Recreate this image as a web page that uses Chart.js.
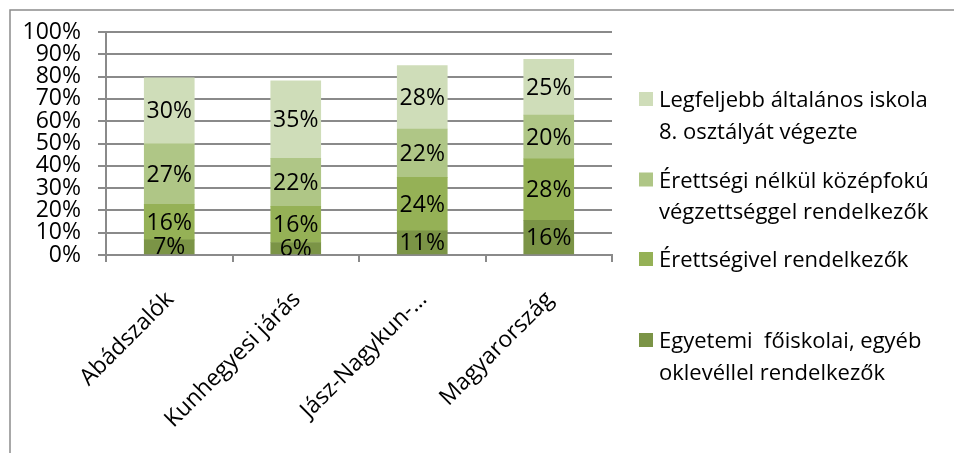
<!DOCTYPE html>
<html>
<head>
<meta charset="utf-8">
<script src="https://cdn.jsdelivr.net/npm/chart.js@4/dist/chart.umd.min.js"></script>
<style>
  html, body { margin: 0; padding: 0; background: #ffffff; }
  #wrap { width: 954px; height: 453px; position: relative; }
</style>
</head>
<body>
<div id="wrap"><canvas id="c" width="954" height="453"></canvas></div>
<script>
// ---- data ----
const categories = ['Abádszalók', 'Kunhegyesi járás', 'Jász-Nagykun-…', 'Magyarország'];
const egyetemi = [6.8, 5.6, 10.8, 15.6];
const erettsegivel = [15.9, 16.2, 24.0, 27.5];
const erettsegiNelkul = [27.1, 21.5, 21.7, 19.6];
const legfeljebbAltalanos = [29.6, 34.8, 28.4, 25.1];
const yTickValues = [0, 10, 20, 30, 40, 50, 60, 70, 80, 90, 100];
const seriesLabels = [
  ['Egyetemi  főiskolai, egyéb', 'oklevéllel rendelkezők'],
  ['Érettségivel rendelkezők'],
  ['Érettségi nélkül középfokú', 'végzettséggel rendelkezők'],
  ['Legfeljebb általános iskola', '8. osztályát végezte']
];
const seriesColors = ['#7b9446', '#95b156', '#afc686', '#cfddb9'];

const FONT = '"Open Sans", "Noto Sans", sans-serif';
const GRID = '#8a8a8a';

const seriesData = [egyetemi, erettsegivel, erettsegiNelkul, legfeljebbAltalanos];

const datasets = seriesData.map((d, i) => ({
  label: seriesLabels[i].join(' '),
  data: d,
  backgroundColor: seriesColors[i],
  borderWidth: 0,
  barThickness: 50
}));

const frameAndLegend = {
  id: 'frameAndLegend',
  beforeDraw(chart) {
    const ctx = chart.ctx;
    ctx.save();
    ctx.strokeStyle = '#8c8c8c';
    ctx.lineWidth = 1.5;
    ctx.beginPath();
    ctx.moveTo(10, 453);
    ctx.lineTo(10, 10);
    ctx.lineTo(954, 10);
    ctx.stroke();
    ctx.restore();
  },
  afterDraw(chart) {
    const ctx = chart.ctx;
    ctx.save();
    ctx.font = '22px ' + FONT;
    ctx.textAlign = 'left';
    ctx.textBaseline = 'alphabetic';
    const baselines = [107, 187.5, 267, 348];
    const order = [3, 2, 1, 0];
    order.forEach((dsIndex, k) => {
      const ds = chart.data.datasets[dsIndex];
      const b = baselines[k];
      ctx.fillStyle = ds.backgroundColor;
      ctx.fillRect(639, b - 15, 14, 14);
      ctx.fillStyle = '#000000';
      seriesLabels[dsIndex].forEach((line, li) => {
        ctx.fillText(line, 659, b + li * 31.5);
      });
    });
    ctx.restore();
  }
};

const valueLabels = {
  id: 'valueLabels',
  afterDatasetsDraw(chart) {
    const ctx = chart.ctx;
    const a = chart.chartArea;
    ctx.save();
    ctx.beginPath();
    ctx.rect(a.left, a.top, a.right - a.left, a.bottom - a.top);
    ctx.clip();
    ctx.font = '23px ' + FONT;
    ctx.fillStyle = '#000000';
    ctx.textAlign = 'center';
    ctx.textBaseline = 'middle';
    chart.data.datasets.forEach((ds, i) => {
      const meta = chart.getDatasetMeta(i);
      meta.data.forEach((bar, j) => {
        const y = (bar.y + bar.base) / 2;
        ctx.fillText(Math.round(ds.data[j]) + '%', bar.x, y + 1);
      });
    });
    ctx.restore();
  }
};

new Chart(document.getElementById('c'), {
  type: 'bar',
  data: { labels: categories, datasets },
  plugins: [frameAndLegend, valueLabels],
  options: {
    responsive: false,
    animation: false,
    devicePixelRatio: 1,
    layout: { padding: { left: 10, top: 32, right: 342, bottom: 0 } },
    plugins: { legend: { display: false }, tooltip: { enabled: false } },
    scales: {
      x: {
        stacked: true,
        offset: true,
        grid: { display: true, offset: true, drawOnChartArea: false, drawTicks: true, tickLength: 7, color: GRID, lineWidth: 2 },
        border: { display: true, color: GRID, width: 2 },
        ticks: {
          color: '#000000',
          font: { family: FONT, size: 23 },
          minRotation: 45,
          maxRotation: 45,
          autoSkip: false,
          padding: 24,
          labelOffset: 1
        },
        afterFit(scale) { scale.height = 198; }
      },
      y: {
        stacked: true,
        min: 0,
        max: 100,
        afterBuildTicks(scale) { scale.ticks = yTickValues.map(v => ({ value: v })); },
        grid: { color: GRID, lineWidth: 2, tickLength: 8, drawTicks: true },
        border: { display: true, color: GRID, width: 2 },
        ticks: {
          color: '#000000',
          font: { family: FONT, size: 23, lineHeight: 1 },
          padding: 17,
          autoSkip: false,
          callback: v => v + '%'
        },
        afterFit(scale) { scale.width = 96; }
      }
    }
  }
});
</script>
</body>
</html>
